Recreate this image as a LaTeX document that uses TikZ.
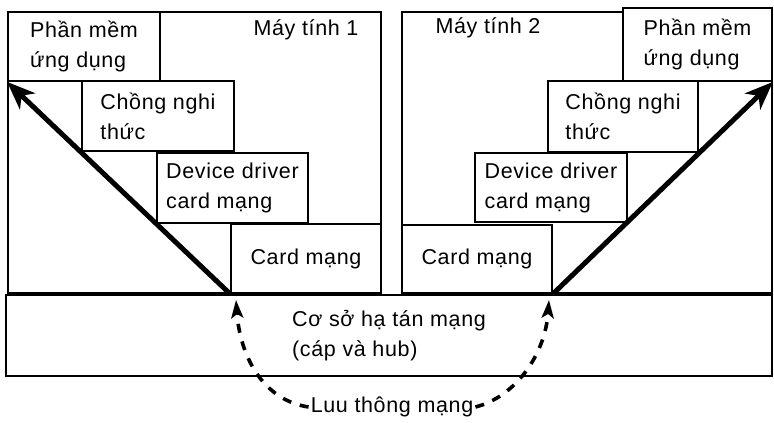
\documentclass[tikz,border=0pt]{standalone}
\usepackage{fontspec}
\setmainfont{Liberation Sans}[LetterSpace=3]
\usetikzlibrary{arrows.meta}

\begin{document}
\begin{tikzpicture}[yscale=-1
,outerbox/.style={draw=black,line width=2.6pt,inner sep=0}
,layerbox/.style={draw=black,fill=white,line width=1.8pt,align=left,inner sep=0,font=\fontsize{21.5}{30}\selectfont}
,netbox/.style={draw=black,line width=2.8pt,align=left,inner sep=0,font=\fontsize{21.5}{30}\selectfont}
,plain/.style={inner sep=2pt,font=\fontsize{21.5}{25}\selectfont}
,bigarrow/.style={color=black,line width=5pt,-{Stealth[length=28pt,width=22pt,inset=8pt]}}
,flowarrow/.style={color=black,line width=3.6pt,dash pattern=on 9pt off 9pt,-{Stealth[length=18pt,width=12pt,inset=4pt]}}
]
\useasboundingbox (0pt,0pt) rectangle (774pt,423pt);
% may tinh 1
\node (mt1) at (194.5pt,152.5pt)[outerbox,minimum width=373pt,minimum height=281pt]{};
\node (pm1) at (84pt,46.5pt)[layerbox,minimum width=152pt,minimum height=69pt]{Phần mềm\\ứng dụng};
\node (cn1) at (158pt,116pt)[layerbox,minimum width=152pt,minimum height=70pt]{Chồng nghi\\thức};
\node (dd1) at (232.5pt,188pt)[layerbox,minimum width=151pt,minimum height=70pt]{Device driver\\card mạng};
\node (cm1) at (306pt,258.5pt)[layerbox,minimum width=150pt,minimum height=69pt]{Card mạng};
\node (ten1) at (306pt,30pt)[plain]{Máy tính 1};
% may tinh 2
\node (mt2) at (587pt,152.5pt)[outerbox,minimum width=370pt,minimum height=281pt]{};
\node (pm2) at (697.5pt,44.5pt)[layerbox,minimum width=149pt,minimum height=73pt]{Phần mềm\\ứng dụng};
\node (cn2) at (623pt,116.5pt)[layerbox,minimum width=150pt,minimum height=71pt]{Chồng nghi\\thức};
\node (dd2) at (551pt,187.5pt)[layerbox,minimum width=152pt,minimum height=69pt]{Device driver\\card mạng};
\node (cm2) at (477pt,259pt)[layerbox,minimum width=150pt,minimum height=68pt]{Card mạng};
\node (ten2) at (488pt,28pt)[plain]{Máy tính 2};
% co so ha tang
\node (net) at (389pt,335.5pt)[netbox,minimum width=766pt,minimum height=81pt]{Cơ sở hạ tán mạng\\(cáp và hub)};
\node (lt) at (392pt,407pt)[plain]{Luu thông mạng};
\coordinate (tipL) at (236pt,300pt);
\coordinate (tipR) at (549pt,300pt);
% duong di
\draw[bigarrow] (cm1.south west) -- (pm1.south west);
\draw[bigarrow] (cm2.south east) -- (pm2.south east);
\draw[flowarrow] (lt.west) .. controls (262pt,400pt) and (240pt,355pt) .. (tipL);
\draw[flowarrow] (lt.east) .. controls (515pt,397pt) and (545pt,355pt) .. (tipR);
\end{tikzpicture}
\end{document}
